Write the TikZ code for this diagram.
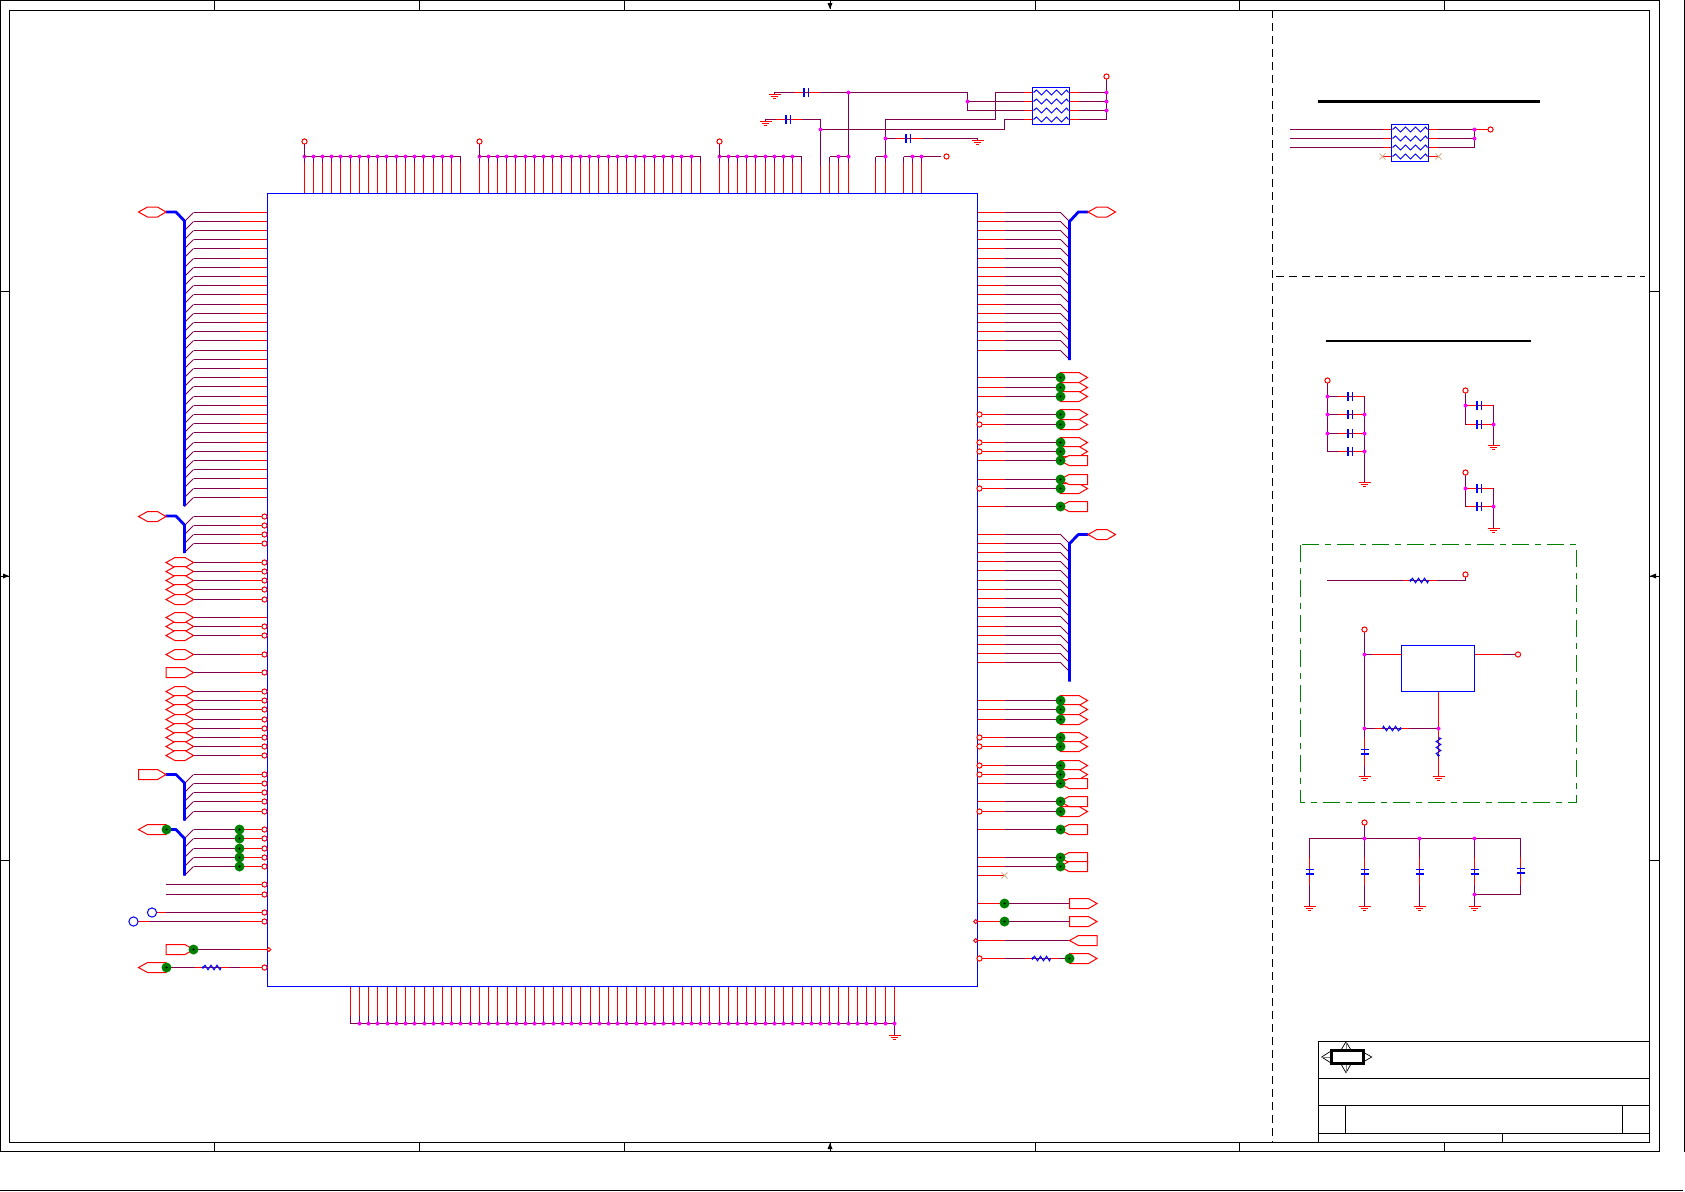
\documentclass[tikz,border=0pt]{standalone}

\definecolor{wirecol}{HTML}{800050}
\definecolor{jncol}{HTML}{FF00FF}
\definecolor{viacol}{HTML}{008000}
\definecolor{nccol}{HTML}{D0B090}

\tikzset{
    wire/.style={draw=wirecol, line width=0.5pt},
    pin/.style={draw=red, line width=0.5pt},
    part/.style={draw=blue, line width=0.5pt},
    bus/.style={draw=blue, line width=1.4pt, line join=round},
    frameline/.style={draw=black, line width=0.5pt},
    jn/.style={fill=jncol},
    opendot/.style={draw=red, fill=white, line width=0.5pt},
    tag/.style={draw=red, fill=white, line width=0.5pt},
    chipbox/.style={draw=blue, line width=0.5pt, inner sep=0pt, outer sep=0pt},
    pics/gnd/.style={code={
        \draw[pin] (-6,0)--(6,0) (-3.5,2)--(3.5,2) (-1.5,4)--(1.5,4);
    }},
    pics/caph/.style={code={
        \draw[pin] (-13,0)--(-2,0) (2,0)--(13,0);
        \draw[draw=blue, line width=1pt] (-2.5,-4.5)--(-2.5,4.5);
        \draw[part] (2,-4.5)--(2,4.5);
    }},
    pics/capv/.style={code={
        \draw[pin] (0,-14)--(0,-2) (0,2)--(0,14);
        \draw[part] (-4,-2)--(4,-2);
        \draw[draw=blue, line width=1pt] (-4,2.5)--(4,2.5);
    }},
    pics/res/.style={code={
        \draw[pin] (-17,0)--(-9,0) (9,0)--(17,0);
        \draw[part] (-9,0)--(-7,-2.3)--(-4,2.3)--(-1,-2.3)--(2,2.3)--(5,-2.3)--(8,2.3)--(9,0);
        \fill[blue] (-9,0) circle[radius=1.3];
    }},
    pics/rpack/.style={code={
        \foreach \yy in {5,14,23,32} {
            \draw[pin] (-9,\yy)--(0,\yy) (37,\yy)--(46,\yy);
            \draw[part] (1,\yy)--(4,\yy-2.5)--(9,\yy+2.5)--(14,\yy-2.5)--(19,\yy+2.5)--(24,\yy-2.5)--(29,\yy+2.5)--(34,\yy-2.5)--(36,\yy);
        }
        \draw[part] (0,0) rectangle (37,37);
    }},
    pics/hexa/.style={code={
        \draw[tag] (0,0)--(9,-5)--(19,-5)--(27.5,0)--(19,5)--(9,5)--cycle;
    }},
    pics/tagr/.style={code={
        \draw[tag] (0,-5)--(19,-5)--(27.5,0)--(19,5)--(0,5)--cycle;
    }},
    pics/tagl/.style={code={
        \draw[tag] (0,0)--(9,-5)--(27.5,-5)--(27.5,5)--(9,5)--cycle;
    }},
    pics/via/.style={code={
        \fill[viacol] (0,0) circle[radius=5];
        \fill[black] (0,0) circle[radius=1.2];
    }},
    pics/nc/.style={code={
        \draw[draw=nccol, line width=0.4pt] (-3,-3)--(3,3) (-3,3)--(3,-3);
    }}
}

% pin row on the top edge: first x, number of steps
\newcommand{\toprow}[2]{
    \foreach \k [evaluate=\k as \xx using floor(#1+\k*9.22)+0.5] in {0,...,#2} {
        \draw[pin] (\xx,193.5) -- (\xx,163);
        \draw[wire] (\xx,163) -- (\xx,156.5);
    }
    \draw[wire] (#1+0.5,156.5) -- ({floor(#1+#2*9.22)+0.5},156.5);
    \pgfmathtruncatemacro\lastk{#2-1}
    \foreach \k [evaluate=\k as \xx using floor(#1+\k*9.22)+0.5] in {0,...,\lastk} {
        \fill[jn] (\xx,156.5) circle[radius=2];
    }
}
\newcommand{\leftwire}[3]{
    \draw[wire] (#1,#2) -- (240,#2);
    \draw[pin] (240,#2) -- (#3,#2);
}
\newcommand{\rightwire}[2]{
    \draw[pin] (977.5,#1) -- (1005,#1);
    \draw[wire] (1005,#1) -- (#2,#1);
}

\begin{document}
\begin{tikzpicture}[x=0.5pt,y=-0.5pt]
    \useasboundingbox (0,0) rectangle (1685,1191);

    % frame
    \draw[frameline] (0.5,0.5) rectangle (1659.5,1151.5);
    \draw[frameline] (9.5,10.5) rectangle (1649.5,1142.5);
    \draw[frameline] (0,1190.5) -- (1683,1190.5);
    \draw[frameline] (1684.5,0) -- (1684.5,1151.5);
    \foreach \xx in {214.5,419.5,624.5,1035.5,1239.5,1444.5} {
        \draw[frameline] (\xx,0) -- (\xx,10);
        \draw[frameline] (\xx,1142.5) -- (\xx,1151.5);
    }
    \foreach \yy in {291.5,860.5} {
        \draw[frameline] (0,\yy) -- (9.5,\yy);
        \draw[frameline] (1649.5,\yy) -- (1659.5,\yy);
    }
    \fill[black] (830,9) -- (827.5,3) -- (832.5,3) -- cycle;
    \fill[black] (830,1143) -- (827.5,1149) -- (832.5,1149) -- cycle;
    \fill[black] (9,576) -- (3,573.5) -- (3,578.5) -- cycle;
    \fill[black] (1650,576) -- (1656,573.5) -- (1656,578.5) -- cycle;
    \draw[frameline] (830,0) -- (830,9) (830,1143) -- (830,1151.5) (0,576) -- (9,576) (1650,576) -- (1659.5,576);

    % title block
    \draw[frameline] (1318.5,1142.5) -- (1318.5,1041.5) -- (1649.5,1041.5);
    \draw[frameline] (1318.5,1078.5) -- (1649.5,1078.5);
    \draw[frameline] (1318.5,1105.5) -- (1649.5,1105.5);
    \draw[frameline] (1318.5,1133.5) -- (1649.5,1133.5);
    \draw[frameline] (1345.5,1105.5) -- (1345.5,1133.5);
    \draw[frameline] (1622.5,1105.5) -- (1622.5,1133.5);
    \draw[frameline] (1502.5,1133.5) -- (1502.5,1142.5);
    \draw[frameline, line width=0.35pt] (1321.7,1057) -- (1331,1051) -- (1331,1063) -- cycle;
    \draw[frameline, line width=0.35pt] (1371.7,1057) -- (1363,1052) -- (1363,1062) -- cycle;
    \draw[frameline, line width=0.35pt] (1346,1041.7) -- (1341,1050) -- (1351,1050) -- cycle;
    \draw[frameline, line width=0.35pt] (1346,1072.7) -- (1341,1064) -- (1351,1064) -- cycle;
    \draw[draw=gray, line width=0.35pt] (1321.7,1057) -- (1331,1057) (1346,1041.7) -- (1346,1050) (1346,1064) -- (1346,1072.7);
    \draw[draw=black, line width=1.5pt] (1331,1050.3) rectangle (1363,1063.7);

    % page split
    \draw[frameline, dash pattern=on 4pt off 2.5pt] (1272.5,10) -- (1272.5,1142.5);
    \draw[frameline, dash pattern=on 4pt off 2.5pt] (1276,276.5) -- (1645,276.5);
    \draw[draw=black, line width=1.5pt] (1317.5,101.5) -- (1540,101.5);
    \draw[draw=black, line width=1pt] (1326,341) -- (1530.5,341);

    % top pins
    \toprow{304}{17}
    \toprow{479}{24}
    \toprow{719}{9}
    \foreach \xx in {829.5,838.5,848.5,875.5,885.5,903.5,912.5,921.5} {
        \draw[pin] (\xx,193.5) -- (\xx,163);
        \draw[wire] (\xx,163) -- (\xx,156.5);
    }
    \draw[wire] (829.5,156.5) -- (848.5,156.5);
    \draw[wire] (875.5,156.5) -- (885.5,156.5);
    \draw[wire] (903.5,156.5) -- (921.5,156.5);
    \draw[pin] (820.5,193.5) -- (820.5,166);

    % top decoupling and ferrite pack
    \draw[wire] (820.5,166) -- (820.5,119.5) -- (765.5,119.5) -- (765.5,121.5);
    \draw[wire] (820.5,129.5) -- (1004.5,129.5) -- (1004.5,119.5) -- (1032.5,119.5);
    \draw[wire] (774.5,94) -- (774.5,92.5) -- (967.5,92.5) -- (967.5,110.5) -- (1032.5,110.5);
    \draw[wire] (967.5,101.5) -- (1032.5,101.5);
    \draw[wire] (848.5,156.5) -- (848.5,92.5);
    \draw[wire] (885.5,156.5) -- (885.5,119.5) -- (995.5,119.5) -- (995.5,92.5) -- (1032.5,92.5);
    \draw[wire] (885.5,138.5) -- (977.5,138.5) -- (977.5,140);
    \draw[wire] (921.5,156.5) -- (941,156.5);
    \draw[wire] (1069.5,92.5) -- (1106.5,92.5);
    \draw[wire] (1069.5,101.5) -- (1106.5,101.5);
    \draw[wire] (1069.5,110.5) -- (1106.5,110.5);
    \draw[wire] (1106.5,79) -- (1106.5,119.5) -- (1069.5,119.5);
    \pic at (765.5,121.5) {gnd};
    \pic at (774.5,94) {gnd};
    \pic at (977.5,140) {gnd};
    \pic at (806.5,92.5) {caph};
    \pic at (788.5,119.5) {caph};
    \pic at (908.5,138.5) {caph};
    \pic at (1032.5,87.5) {rpack};
    \foreach \xx/\yy in {838.5/156.5,848.5/156.5,848.5/92.5,820.5/129.5,885.5/156.5,885.5/138.5,912.5/156.5,921.5/156.5,967.5/101.5,1106.5/92.5,1106.5/101.5,1106.5/110.5} {
        \fill[jn] (\xx,\yy) circle[radius=2];
    }
    \foreach \xx/\yy in {304.5/141.5,479.5/141.5,719.5/141.5,946.5/156.5,1106.5/76.5} {
        \draw[opendot] (\xx,\yy) circle[radius=2.6];
    }
    \draw[wire] (304.5,144) -- (304.5,156.5) (479.5,144) -- (479.5,156.5) (719.5,144) -- (719.5,156.5);

    % bottom pins
    \foreach \k [evaluate=\k as \xx using floor(350.3+\k*9.22)+0.5] in {0,...,59} {
        \draw[pin] (\xx,986.5) -- (\xx,1016);
        \draw[wire] (\xx,1016) -- (\xx,1023.5);
    }
    \draw[wire] (350.5,1023.5) -- (894.5,1023.5) -- (894.5,1035);
    \foreach \k [evaluate=\k as \xx using floor(350.3+\k*9.22)+0.5] in {1,...,59} {
        \fill[jn] (\xx,1023.5) circle[radius=2];
    }
    \pic at (894.5,1035) {gnd};

    % left buses
    \foreach \k [evaluate=\k as \yy using 212.5+9*\k+floor(\k/5)] in {0,...,31} {
        \leftwire{193.5}{\yy}{267.5}
        \draw[wire] (184.5,\yy+9) -- (193.5,\yy);
    }
    \draw[bus] (165.7,212) -- (176,212) -- (184.5,221) -- (184.5,506);
    \pic at (138.5,212) {hexa};

    \foreach \yy in {516.5,525.5,534.5,543.5} {
        \leftwire{193.5}{\yy}{264.5}
        \draw[wire] (184.5,\yy+9) -- (193.5,\yy);
    }
    \draw[bus] (165.7,516) -- (176,516) -- (184.5,525) -- (184.5,553);
    \pic at (138.5,516.5) {hexa};

    \foreach \yy in {562.5,571.5,580.5,589.5,599.5,626.5,635.5,654.5,691.5,700.5,709.5,719.5,728.5,737.5,746.5,755.5} {
        \leftwire{193.5}{\yy}{264.5}
        \pic at (166,\yy) {hexa};
    }
    \leftwire{193.5}{617.5}{267.5}
    \pic at (166,617.5) {hexa};
    \leftwire{193.5}{672.5}{264.5}
    \pic at (166,672.5) {tagr};

    \foreach \yy in {774.5,783.5,792.5,801.5,811.5} {
        \leftwire{193.5}{\yy}{264.5}
        \draw[wire] (184.5,\yy+9) -- (193.5,\yy);
    }
    \draw[bus] (165.7,774.5) -- (176,774.5) -- (184.5,783) -- (184.5,820.7);
    \pic at (138.5,774.5) {tagr};

    \foreach \yy in {829.5,838.5,848.5,857.5,866.5} {
        \leftwire{193.5}{\yy}{264.5}
        \draw[wire] (184.5,\yy+9) -- (193.5,\yy);
    }
    \draw[bus] (166.5,829.5) -- (176,829.5) -- (184.5,838.5) -- (184.5,875.7);
    \pic at (138.5,829.5) {tagl};
    \pic at (166.5,829.5) {via};
    \foreach \yy in {829.5,838.5,848.5,857.5,866.5} {
        \pic at (239.5,\yy) {via};
    }

    \leftwire{166}{884.5}{264.5}
    \leftwire{166}{894.5}{264.5}
    \leftwire{166}{912.5}{264.5}
    \draw[pin] (157,912.5) -- (166,912.5);
    \leftwire{150}{921.5}{264.5}
    \draw[pin] (138,921.5) -- (150,921.5);
    \draw[draw=blue, line width=0.5pt] (152,912.5) circle[radius=4.6];
    \draw[draw=blue, line width=0.5pt] (133.5,921.5) circle[radius=4.6];

    \leftwire{190}{949.5}{267.5}
    \pic at (166,949.5) {tagr};
    \pic at (193.5,949.5) {via};
    \leftwire{166}{967.5}{264.5}
    \pic at (212,967.5) {res};
    \pic at (138.5,967.5) {tagl};
    \pic at (166.5,967.5) {via};

    % right buses
    \foreach \k [evaluate=\k as \yy using 212.5+9*\k+floor(\k/5)] in {0,...,15} {
        \rightwire{\yy}{1060.5}
        \draw[wire] (1060.5,\yy) -- (1069.5,\yy+9);
    }
    \draw[bus] (1088.3,212) -- (1078.3,212) -- (1069.5,221.5) -- (1069.5,360);
    \pic at (1088,212) {hexa};

    \foreach \k [evaluate=\k as \yy using 534.5+9*\k+floor(\k/5)] in {0,...,14} {
        \rightwire{\yy}{1060.5}
        \draw[wire] (1060.5,\yy) -- (1069.5,\yy+9);
    }
    \draw[bus] (1088.3,534.5) -- (1078.3,534.5) -- (1069.5,543.6) -- (1069.5,681.7);
    \pic at (1088,534.5) {hexa};

    % right single nets
    \foreach \yy in {377.5,387.5,396.5,414.5,424.5,442.5,451.5,460.5,479.5,488.5,506.5,700.5,709.5,719.5,737.5,746.5,765.5,774.5,783.5,801.5,811.5,829.5,857.5,866.5} {
        \rightwire{\yy}{1060}
    }
    \foreach \yy in {377.5,387.5,396.5,414.5,424.5,442.5,451.5,488.5,700.5,709.5,719.5,737.5,746.5,765.5,774.5,811.5} {
        \pic at (1060,\yy) {tagr};
    }
    \foreach \yy in {460.5,479.5,506.5,783.5,801.5,829.5,857.5,866.5} {
        \pic at (1060,\yy) {tagl};
    }
    \foreach \yy in {377.5,387.5,396.5,414.5,424.5,442.5,451.5,460.5,479.5,488.5,506.5,700.5,709.5,719.5,737.5,746.5,765.5,774.5,783.5,801.5,811.5,829.5,857.5,866.5} {
        \pic at (1060.5,\yy) {via};
    }
    \draw[pin] (977.5,875.5) -- (1004.5,875.5);
    \pic at (1004.5,875.5) {nc};

    \foreach \yy in {903.5,921.5,940.5,958.5} {
        \rightwire{\yy}{1069.5}
    }
    \pic at (1069.5,903.5) {tagr};
    \pic at (1069.5,921.5) {tagr};
    \pic at (1069.5,940.5) {tagl};
    \pic at (1069.5,958.5) {tagr};
    \pic at (1004.5,903.5) {via};
    \pic at (1004.5,921.5) {via};
    \pic at (1041.5,958.5) {res};
    \pic at (1069.5,958.5) {via};

    % main chip
    \node[chipbox, minimum width=355pt, minimum height=396.5pt] (chip) at (622.5,590) {};
    \foreach \yy in {516.5,525.5,534.5,543.5,562.5,571.5,580.5,589.5,599.5,626.5,635.5,654.5,672.5,691.5,700.5,709.5,719.5,728.5,737.5,746.5,755.5,774.5,783.5,792.5,801.5,811.5,829.5,838.5,848.5,857.5,866.5,884.5,894.5,912.5,921.5,967.5} {
        \draw[opendot] (264.5,\yy) circle[radius=2.6];
    }
    \foreach \yy in {414.5,424.5,442.5,451.5,488.5,737.5,746.5,765.5,774.5,811.5,958.5} {
        \draw[opendot] (979.5,\yy) circle[radius=2.6];
    }
    \draw[tag] (266.8,949.5) -- (268.8,947.5) -- (270.8,949.5) -- (268.8,951.5) -- cycle;
    \foreach \yy in {921.5,940.5} {
        \draw[tag] (973.7,\yy) -- (975.7,\yy-2) -- (977.7,\yy) -- (975.7,\yy+2) -- cycle;
    }

    % power filter, upper right
    \foreach \yy in {129.5,138.5,147.5} {
        \draw[wire] (1290,\yy) -- (1391.5,\yy);
        \draw[wire] (1428.5,\yy) -- (1474.5,\yy);
    }
    \draw[wire] (1474.5,129.5) -- (1474.5,147.5);
    \draw[pin] (1474.5,129.5) -- (1487.5,129.5);
    \pic at (1391.5,124.5) {rpack};
    \pic at (1382.5,156.5) {nc};
    \pic at (1438.5,156.5) {nc};
    \fill[jn] (1474.5,129.5) circle[radius=2];
    \fill[jn] (1474.5,138.5) circle[radius=2];
    \draw[opendot] (1490.5,129.5) circle[radius=2.6];

    % decoupling groups
    \draw[wire] (1327.5,383) -- (1327.5,451.5) -- (1364.5,451.5);
    \draw[wire] (1327.5,396.5) -- (1364.5,396.5) -- (1364.5,482);
    \draw[wire] (1327.5,414.5) -- (1364.5,414.5);
    \draw[wire] (1327.5,433.5) -- (1364.5,433.5);
    \foreach \yy in {396.5,414.5,433.5,451.5} {
        \pic at (1350.5,\yy) {caph};
    }
    \foreach \yy in {396.5,414.5,433.5} {
        \fill[jn] (1327.5,\yy) circle[radius=2];
    }
    \foreach \yy in {414.5,433.5,451.5} {
        \fill[jn] (1364.5,\yy) circle[radius=2];
    }
    \draw[opendot] (1327.5,380.5) circle[radius=2.6];
    \pic at (1364.5,482) {gnd};

    \foreach \yy/\yb/\yc/\yg in {390.5/405.5/424.5/445,472.5/488.5/506.5/528} {
        \draw[wire] (1465.5,\yy) -- (1465.5,\yc) -- (1493.5,\yc);
        \draw[wire] (1465.5,\yb) -- (1493.5,\yb) -- (1493.5,\yg);
        \pic at (1479.5,\yb) {caph};
        \pic at (1479.5,\yc) {caph};
        \fill[jn] (1465.5,\yb) circle[radius=2];
        \fill[jn] (1493.5,\yc) circle[radius=2];
        \draw[opendot] (1465.5,\yy) circle[radius=2.6];
        \pic at (1493.5,\yg) {gnd};
    }

    % regulator section
    \draw[draw=viacol, line width=0.5pt, dash pattern=on 8.5pt off 3pt on 3pt off 3pt] (1300.5,544.5) rectangle (1576.5,802.5);
    \draw[wire] (1327,580.5) -- (1465.5,580.5) -- (1465.5,576.5);
    \pic at (1419.5,580.5) {res};
    \draw[opendot] (1465.5,574.5) circle[radius=2.6];

    \node[chipbox, minimum width=36.5pt, minimum height=23pt] (reg) at (1438,668.5) {};
    \draw[wire] (1364.5,632) -- (1364.5,776.5);
    \draw[wire] (1364.5,654.5) -- (1401.5,654.5);
    \draw[pin] (1372,654.5) -- (1401.5,654.5);
    \draw[pin] (1474.5,654.5) -- (1503,654.5);
    \draw[wire] (1503,654.5) -- (1515.4,654.5);
    \draw[pin] (reg.south) ++(0.5,0) -- (1438.5,728.5);
    \draw[wire] (1364.5,728.5) -- (1438.5,728.5);
    \pic at (1391.5,728.5) [rotate=180] {res};
    \draw[pin] (1438.5,728.5) -- (1438.5,776);
    \pic at (1438.5,746.5) [rotate=90] {res};
    \pic at (1364.5,751.5) {capv};
    \pic at (1364.5,776.5) {gnd};
    \pic at (1438.5,776) {gnd};
    \fill[jn] (1364.5,654.5) circle[radius=2];
    \fill[jn] (1364.5,728.5) circle[radius=2];
    \fill[jn] (1438.5,728.5) circle[radius=2];
    \draw[opendot] (1364.5,629.5) circle[radius=2.6];
    \draw[opendot] (1518,654.5) circle[radius=2.6];

    % bulk caps
    \draw[wire] (1364.5,825.3) -- (1364.5,838.5);
    \draw[wire] (1309.5,906) -- (1309.5,838.5) -- (1520.5,838.5) -- (1520.5,894.5) -- (1474.5,894.5);
    \foreach \xx in {1364.5,1419.5,1474.5} {
        \draw[wire] (\xx,838.5) -- (\xx,906);
        \fill[jn] (\xx,838.5) circle[radius=2];
    }
    \foreach \xx in {1309.5,1364.5,1419.5,1474.5} {
        \pic at (\xx,871) {capv};
        \pic at (\xx,906) {gnd};
    }
    \pic at (1520.5,870.5) {capv};
    \fill[jn] (1474.5,894.5) circle[radius=2];
    \draw[opendot] (1364.5,822.5) circle[radius=2.6];
\end{tikzpicture}
\end{document}
